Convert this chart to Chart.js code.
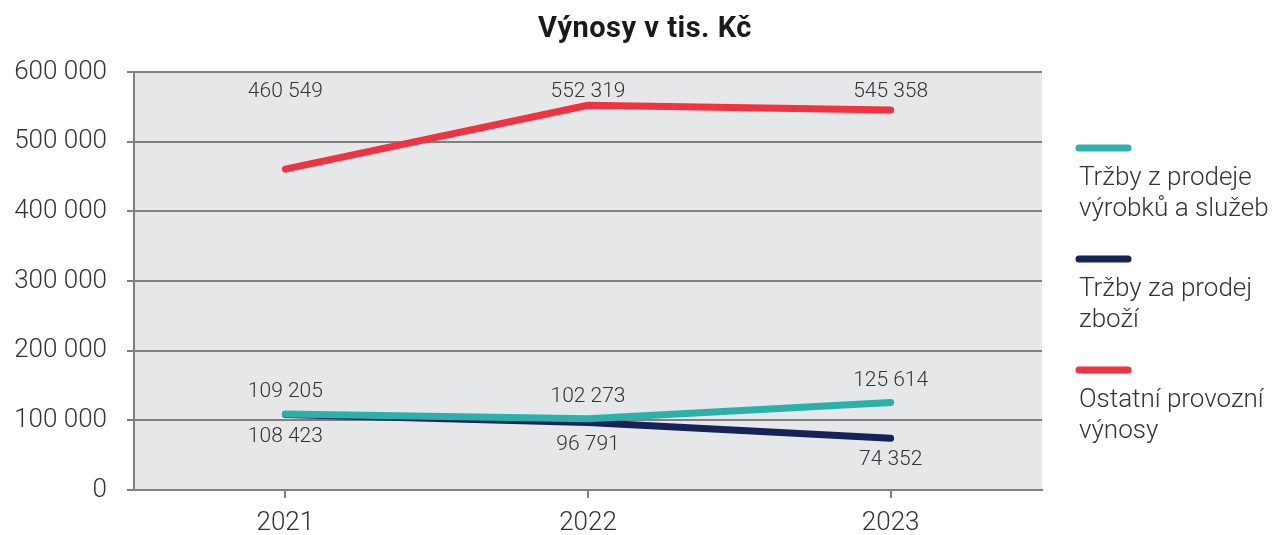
<!DOCTYPE html>
<html>
<head>
<meta charset="utf-8">
<script src="https://cdn.jsdelivr.net/npm/chart.js@4/dist/chart.umd.min.js"></script>
<style>
  html, body { margin: 0; padding: 0; background: #fff; }
  #wrap { position: relative; width: 1276px; height: 535px; }
</style>
</head>
<body>
<div id="wrap"><canvas id="myChart" width="1276" height="535"></canvas></div>
<script>
var chartTitle = 'Výnosy v tis. Kč';
var years = ['2021', '2022', '2023'];
var seriesNames = ['Tržby z prodeje výrobků a služeb', 'Tržby za prodej zboží', 'Ostatní provozní výnosy'];
var legendLines = [['Tržby z prodeje', 'výrobků a služeb'], ['Tržby za prodej', 'zboží'], ['Ostatní provozní', 'výnosy']];
var trzbyVyrobky = [109205, 102273, 125614];
var trzbyZbozi = [108423, 96791, 74352];
var ostatniVynosy = [460549, 552319, 545358];
var yTicks = [0, 100000, 200000, 300000, 400000, 500000, 600000];

var colors = ['#2bb1aa', '#162359', '#ef3340'];
// where the value label sits: above the point, below it, or at the top of the plot
var labelPos = ['above', 'below', 'top'];

function fmt(v) {
    return String(v).replace(/\B(?=(\d{3})+(?!\d))/g, ' ');
}

var decorPlugin = {
    id: 'decor',
    beforeDraw: function (chart) {
        var c = chart.ctx, a = chart.chartArea;
        c.save();
        c.fillStyle = '#e6e7e8';
        c.fillRect(a.left, a.top, a.right - a.left, a.bottom - a.top);
        c.restore();
    },
    afterDraw: function (chart) {
        var c = chart.ctx, a = chart.chartArea;
        c.save();
        // title
        c.fillStyle = '#1a1a1a';
        c.font = 'bold 29px Roboto';
        c.letterSpacing = '0.5px';
        c.textAlign = 'center';
        c.textBaseline = 'middle';
        c.fillText(chartTitle, 645, 30);
        c.letterSpacing = '0px';

        // value labels
        c.font = '300 21px Roboto';
        c.fillStyle = '#333333';
        chart.data.datasets.forEach(function (ds, i) {
            var meta = chart.getDatasetMeta(i);
            meta.data.forEach(function (pt, j) {
                var y;
                if (labelPos[i] === 'top') y = a.top + 20;
                else if (labelPos[i] === 'above') y = pt.y - 22;
                else y = pt.y + 22;
                c.fillText(fmt(ds.data[j]), pt.x, y);
            });
        });

        // legend: line sample above wrapped text
        c.textAlign = 'left';
        c.font = '300 26px Roboto';
        c.lineCap = 'round';
        legendLines.forEach(function (lines, i) {
            var top = 148 + i * 111;
            c.strokeStyle = colors[i];
            c.lineWidth = 7;
            c.beginPath();
            c.moveTo(1079, top);
            c.lineTo(1128, top);
            c.stroke();
            c.fillStyle = '#333333';
            lines.forEach(function (t, k) {
                c.fillText(t, 1079, top + 30 + k * 31);
            });
        });
        c.restore();
    }
};

var seriesData = [trzbyVyrobky, trzbyZbozi, ostatniVynosy];

document.addEventListener('DOMContentLoaded', function () {
    var ctx = document.getElementById('myChart').getContext('2d');
    var myChart = new Chart(ctx, {
        type: 'line',
        data: {
            labels: years,
            datasets: seriesNames.map(function (name, i) {
                return {
                    label: name,
                    data: seriesData[i],
                    borderColor: colors[i],
                    backgroundColor: colors[i],
                    borderWidth: 7,
                    borderCapStyle: 'round',
                    borderJoinStyle: 'round',
                    pointRadius: 0,
                    tension: 0
                };
            })
        },
        options: {
            responsive: false,
            animation: false,
            layout: { padding: { top: 72, right: 234, left: 0, bottom: 0 } },
            plugins: {
                legend: { display: false },
                tooltip: { enabled: false },
                title: { display: false }
            },
            scales: {
                x: {
                    offset: true,
                    grid: {
                        offset: false,
                        drawOnChartArea: false,
                        drawTicks: true,
                        tickLength: 8,
                        color: '#808080',
                        lineWidth: 2
                    },
                    border: { display: true, color: '#808080', width: 2 },
                    ticks: {
                        color: '#333333',
                        padding: 10,
                        font: { family: 'Roboto', size: 26, weight: 300 }
                    },
                    afterFit: function (scale) { scale.height = 45; }
                },
                y: {
                    min: 0,
                    max: 600000,
                    afterBuildTicks: function (scale) {
                        scale.ticks = yTicks.map(function (v) { return { value: v }; });
                    },
                    grid: {
                        color: '#808080',
                        lineWidth: 2,
                        drawTicks: true,
                        tickLength: 7
                    },
                    border: { display: true, color: '#808080', width: 2 },
                    ticks: {
                        color: '#333333',
                        padding: 20,
                        font: { family: 'Roboto', size: 26, weight: 300 },
                        callback: function (v) { return fmt(v); }
                    },
                    afterFit: function (scale) { scale.width = 134; }
                }
            }
        },
        plugins: [decorPlugin]
    });
});
</script>
</body>
</html>
